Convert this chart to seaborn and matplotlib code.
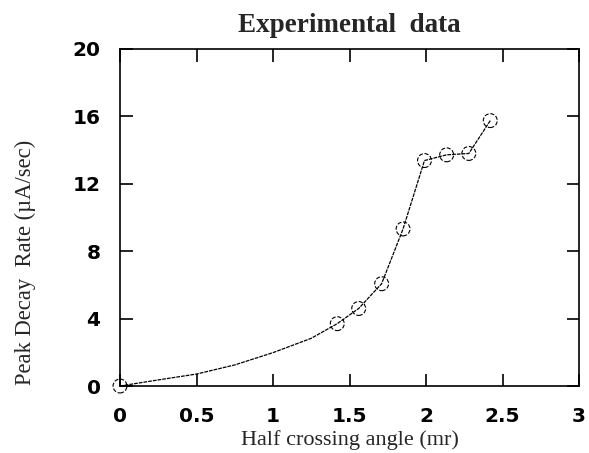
import matplotlib
matplotlib.use("Agg")
import matplotlib.pyplot as plt
import seaborn as sns
import pandas as pd

# measured points (markers)
angle_mr = [0.0, 1.42, 1.56, 1.71, 1.85, 1.99, 2.135, 2.28, 2.42]
decay_rate = [0.0, 3.70, 4.60, 6.07, 9.32, 13.38, 13.72, 13.80, 15.75]

curve_angle = [0.0, 0.25, 0.5, 0.75, 1.0, 1.25]
curve_rate = [0.0, 0.36, 0.71, 1.25, 1.98, 2.83]

x_ticks = [0, 0.5, 1, 1.5, 2, 2.5, 3]
x_tick_labels = ["0", "0.5", "1", "1.5", "2", "2.5", "3"]
y_ticks = [0, 4, 8, 12, 16, 20]
y_tick_labels = ["0", "4", "8", "12", "16", "20"]

sns.set_theme(style="ticks")
plt.rcParams["font.family"] = ["DejaVu Sans"]

fig = plt.figure(figsize=(5.89, 4.53), dpi=100)
ax = fig.add_axes([120 / 589, 1 - 386 / 453, (579 - 120) / 589, (386 - 49) / 453])

line_df = pd.DataFrame({
    "x": curve_angle + angle_mr[1:],
    "y": curve_rate + decay_rate[1:],
})
sns.lineplot(data=line_df, x="x", y="y", ax=ax, color="black", lw=0.9,
             estimator=None, sort=False, linestyle=(0, (3, 0.8)))

pts = pd.DataFrame({"x": angle_mr, "y": decay_rate})
sns.scatterplot(data=pts, x="x", y="y", ax=ax, s=100, marker="o",
                facecolor="none", edgecolor="black", linewidth=0.8,
                linestyle="--", clip_on=False, zorder=3)

ax.set_xlim(0, 3)
ax.set_ylim(0, 20)
ax.set_xticks(x_ticks)
ax.set_xticklabels(x_tick_labels, fontweight="bold")
ax.set_yticks(y_ticks)
ax.set_yticklabels(y_tick_labels, fontweight="bold")
ax.tick_params(direction="in", length=9, width=1.2, top=True, right=True,
               labelsize=14.5, colors="black")
ax.tick_params(axis="x", pad=15)
ax.tick_params(axis="y", pad=14)
for sp in ax.spines.values():
    sp.set_linewidth(1.2)
    sp.set_color("black")
    sp.set_visible(True)

ax.set_xlabel("Half crossing angle (mr)", family="Liberation Serif", fontsize=16, labelpad=3)
ax.set_ylabel("Peak Decay  Rate (\u00b5A/sec)", family="Liberation Serif", fontsize=16.3)
ax.yaxis.set_label_coords(-0.183, 0.368)
ax.set_title("Experimental  data", family="Liberation Serif", fontsize=19.5,
             fontweight="bold", pad=12)

fig.savefig("out.png", dpi=100)
